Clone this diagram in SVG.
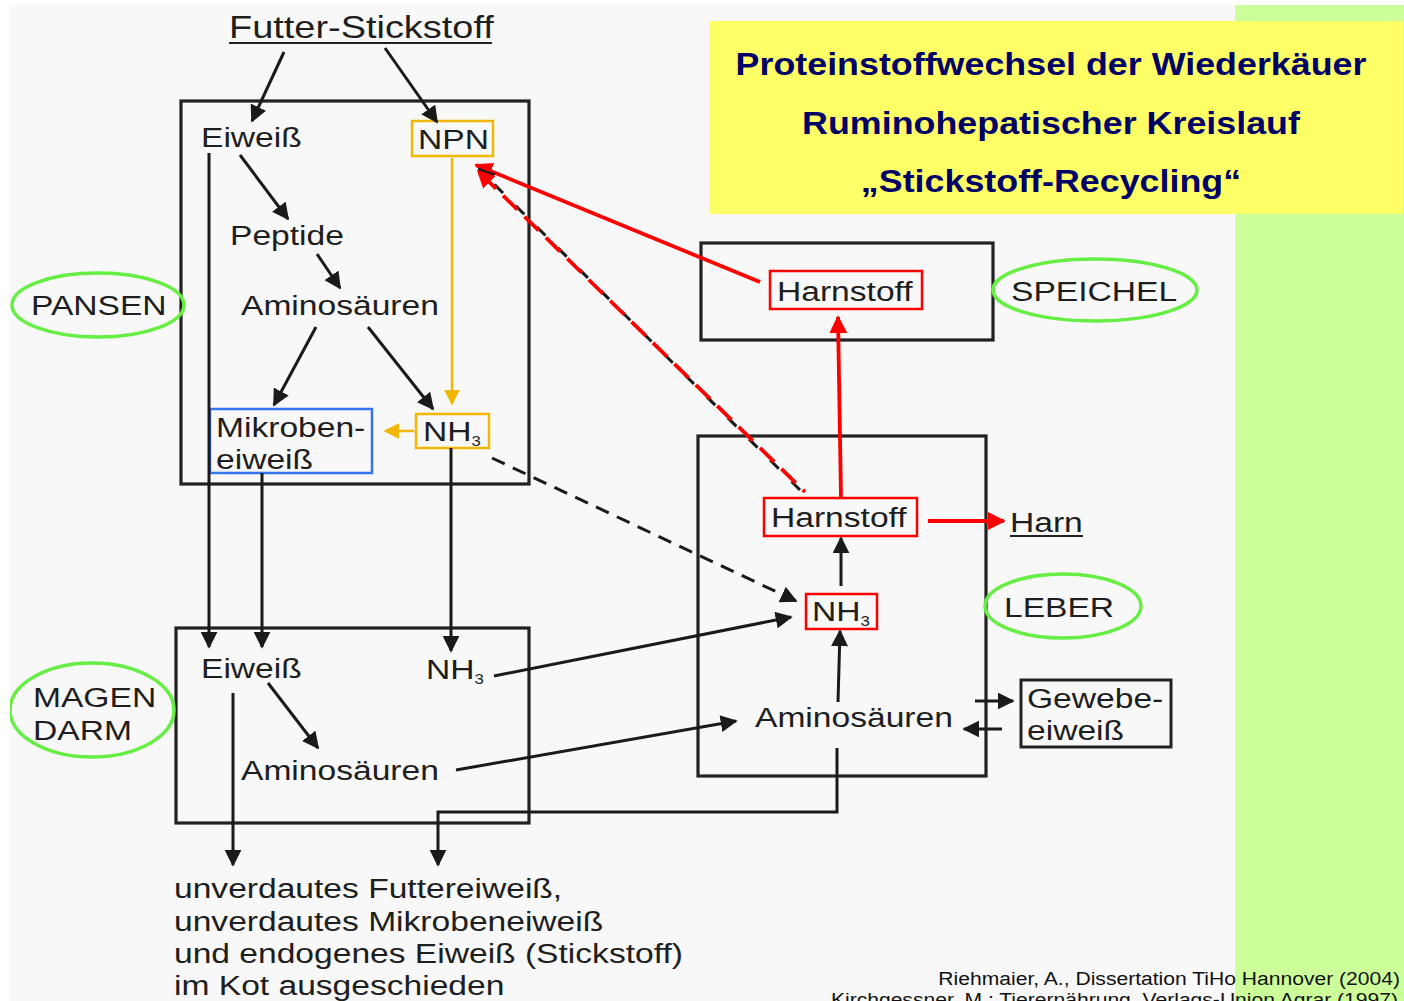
<svg xmlns="http://www.w3.org/2000/svg" width="1404" height="1001" viewBox="0 0 1404 1001">
<style>
.t{font-family:"Liberation Sans",Arial,sans-serif;font-size:28px;fill:#1e1e1e}
.s{font-size:14px}
.box{fill:none;stroke:#222;stroke-width:3.2}
.ln{fill:none;stroke:#1a1a1a;stroke-width:3}
.rd{fill:none;stroke:#ff0000;stroke-width:3.8}
.or{fill:none;stroke:#f2b705;stroke-width:2.5}
.ell{fill:none;stroke:#66ee44;stroke-width:3.5}
.title{font-family:"Liberation Sans",Arial,sans-serif;font-size:32px;font-weight:bold;fill:#000066;text-anchor:middle}
.cite{font-family:"Liberation Sans",Arial,sans-serif;font-size:19px;fill:#111;text-anchor:end}
</style>
<defs>
<marker id="ab" viewBox="0 0 10 10" refX="9" refY="5" markerWidth="17" markerHeight="17" markerUnits="userSpaceOnUse" orient="auto"><path d="M0,0 L10,5 L0,10 z" fill="#1a1a1a"/></marker>
<marker id="ar" viewBox="0 0 10 10" refX="9" refY="5" markerWidth="18" markerHeight="18" markerUnits="userSpaceOnUse" orient="auto"><path d="M0,0 L10,5 L0,10 z" fill="#ff0000"/></marker>
<marker id="ao" viewBox="0 0 10 10" refX="9" refY="5" markerWidth="16" markerHeight="16" markerUnits="userSpaceOnUse" orient="auto"><path d="M0,0 L10,5 L0,10 z" fill="#f2b705"/></marker>
<clipPath id="clip"><rect x="10" y="5" width="1394" height="996"/></clipPath>
</defs>
<rect x="0" y="0" width="1404" height="1001" fill="#ffffff"/>
<rect x="10" y="5" width="1394" height="996" fill="#f8f8f8"/>
<rect x="1235" y="5" width="169" height="996" fill="#ccff99"/>

<g id="title">
<rect x="709" y="21" width="694" height="193" fill="#ffff66"/>
<text class="title" transform="translate(1051,75) scale(1.12,1)">Proteinstoffwechsel der Wiederkäuer</text>
<text class="title" transform="translate(1051,134) scale(1.12,1)">Ruminohepatischer Kreislauf</text>
<text class="title" transform="translate(1051,192) scale(1.12,1)">„Stickstoff-Recycling“</text>
</g>

<g id="futter">
<text class="t" style="font-size:32px" transform="translate(229,38) scale(1.185,1)">Futter-Stickstoff</text>
<line x1="229" y1="43" x2="492" y2="43" stroke="#222" stroke-width="2"/>
</g>

<g id="pansen-box"><rect class="box" x="181" y="101" width="348" height="383"/></g>
<g id="magen-box"><rect class="box" x="176" y="628" width="353" height="195"/></g>
<g id="speichel-box"><rect class="box" x="701" y="243" width="292" height="97"/></g>
<g id="leber-box"><rect class="box" x="698" y="436" width="288" height="340"/></g>

<g id="pansen-label" clip-path="url(#clip)">
<ellipse class="ell" cx="98" cy="305" rx="86" ry="32"/>
<text class="t" transform="translate(31,315) scale(1.2,1)">PANSEN</text>
</g>
<g id="magen-label" clip-path="url(#clip)">
<ellipse class="ell" cx="92" cy="710" rx="82" ry="47"/>
<text class="t" transform="translate(33,707) scale(1.2,1)">MAGEN</text>
<text class="t" transform="translate(33,740) scale(1.2,1)">DARM</text>
</g>
<g id="speichel-label">
<ellipse class="ell" cx="1095" cy="290" rx="102" ry="31"/>
<text class="t" transform="translate(1011,301) scale(1.2,1)">SPEICHEL</text>
</g>
<g id="leber-label">
<ellipse class="ell" cx="1063" cy="606" rx="78" ry="32"/>
<text class="t" transform="translate(1004,617) scale(1.2,1)">LEBER</text>
</g>

<g id="p-eiweiss"><text class="t" transform="translate(201,147) scale(1.2,1)">Eiweiß</text></g>
<g id="p-npn"><rect x="412" y="121" width="81" height="35" fill="none" stroke="#f2b705" stroke-width="2.5"/><text class="t" transform="translate(418,149) scale(1.2,1)">NPN</text></g>
<g id="p-peptide"><text class="t" transform="translate(230,245) scale(1.2,1)">Peptide</text></g>
<g id="p-amino"><text class="t" transform="translate(241,315) scale(1.2,1)">Aminosäuren</text></g>
<g id="p-mikroben"><rect x="210" y="409" width="162" height="64" fill="none" stroke="#3377ee" stroke-width="2.5"/><text class="t" transform="translate(216,437) scale(1.2,1)">Mikroben-</text><text class="t" transform="translate(216,469) scale(1.2,1)">eiweiß</text></g>
<g id="p-nh3"><rect x="416" y="414" width="73" height="34" fill="none" stroke="#f2b705" stroke-width="2.5"/><text class="t" transform="translate(423,441) scale(1.2,1)">NH<tspan class="s" dy="5">3</tspan></text></g>

<g id="m-eiweiss"><text class="t" transform="translate(201,678) scale(1.2,1)">Eiweiß</text></g>
<g id="m-nh3"><text class="t" transform="translate(426,679) scale(1.2,1)">NH<tspan class="s" dy="5">3</tspan></text></g>
<g id="m-amino"><text class="t" transform="translate(241,780) scale(1.2,1)">Aminosäuren</text></g>

<g id="s-harnstoff"><rect x="770" y="271" width="152" height="38" fill="none" stroke="#ff0000" stroke-width="2.5"/><text class="t" transform="translate(777,301) scale(1.2,1)">Harnstoff</text></g>
<g id="l-harnstoff"><rect x="764" y="498" width="153" height="38" fill="none" stroke="#ff0000" stroke-width="2.5"/><text class="t" transform="translate(771,527) scale(1.2,1)">Harnstoff</text></g>
<g id="harn"><text class="t" transform="translate(1010,532) scale(1.2,1)">Harn</text><line x1="1010" y1="536" x2="1083" y2="536" stroke="#222" stroke-width="2"/></g>
<g id="l-nh3"><rect x="806" y="594" width="71" height="35" fill="none" stroke="#ff0000" stroke-width="2.5"/><text class="t" transform="translate(812,621) scale(1.2,1)">NH<tspan class="s" dy="5">3</tspan></text></g>
<g id="l-amino"><text class="t" transform="translate(755,727) scale(1.2,1)">Aminosäuren</text></g>
<g id="gewebe"><rect x="1021" y="680" width="150" height="67" fill="none" stroke="#222" stroke-width="3"/><text class="t" transform="translate(1027,708) scale(1.2,1)">Gewebe-</text><text class="t" transform="translate(1027,740) scale(1.2,1)">eiweiß</text></g>

<g id="kot">
<text class="t" transform="translate(174,898) scale(1.2,1)">unverdautes Futtereiweiß,</text>
<text class="t" transform="translate(174,931) scale(1.2,1)">unverdautes Mikrobeneiweiß</text>
<text class="t" transform="translate(174,963) scale(1.2,1)">und endogenes Eiweiß (Stickstoff)</text>
<text class="t" transform="translate(174,995) scale(1.2,1)">im Kot ausgeschieden</text>
</g>

<g id="connectors">
<line class="ln" x1="284" y1="52" x2="252" y2="121" marker-end="url(#ab)"/>
<line class="ln" x1="385" y1="48" x2="437" y2="122" marker-end="url(#ab)"/>
<line class="ln" x1="240" y1="155" x2="288" y2="219" marker-end="url(#ab)"/>
<line class="ln" x1="317" y1="254" x2="340" y2="288" marker-end="url(#ab)"/>
<line class="ln" x1="316" y1="327" x2="274" y2="405" marker-end="url(#ab)"/>
<line class="ln" x1="368" y1="327" x2="433" y2="409" marker-end="url(#ab)"/>
<line class="or" x1="452" y1="158" x2="452" y2="404" marker-end="url(#ao)"/>
<line class="or" x1="414" y1="431" x2="385" y2="431" marker-end="url(#ao)"/>
<line class="ln" x1="209" y1="153" x2="209" y2="647" marker-end="url(#ab)"/>
<line class="ln" x1="262" y1="473" x2="262" y2="647" marker-end="url(#ab)"/>
<line class="ln" x1="451" y1="448" x2="451" y2="651" marker-end="url(#ab)"/>
<line class="ln" x1="268" y1="683" x2="318" y2="748" marker-end="url(#ab)"/>
<line class="ln" x1="233" y1="693" x2="233" y2="865" marker-end="url(#ab)"/>
<polyline class="ln" points="837,748 837,812 438,812 438,865" marker-end="url(#ab)"/>
<line class="ln" x1="494" y1="676" x2="791" y2="617" marker-end="url(#ab)"/>
<line class="ln" x1="456" y1="770" x2="736" y2="721" marker-end="url(#ab)"/>
<line class="ln" x1="492" y1="458" x2="796" y2="601" stroke-dasharray="14 9" marker-end="url(#ab)"/>
<line class="ln" x1="838" y1="702" x2="840" y2="631" marker-end="url(#ab)"/>
<line class="ln" x1="841" y1="586" x2="841" y2="538" marker-end="url(#ab)"/>
<line class="ln" x1="975" y1="701" x2="1013" y2="701" marker-end="url(#ab)"/>
<line class="ln" x1="1002" y1="729" x2="964" y2="729" marker-end="url(#ab)"/>
<line class="rd" x1="841" y1="498" x2="838" y2="317" marker-end="url(#ar)"/>
<line class="rd" x1="928" y1="521" x2="1004" y2="521" marker-end="url(#ar)"/>
<line class="rd" x1="760" y1="282" x2="476" y2="165" marker-end="url(#ar)"/>
<line class="ln" x1="800" y1="490" x2="479" y2="169" stroke-dasharray="12 18" marker-end="url(#ab)"/>
<line class="rd" x1="805" y1="492" x2="478" y2="171" stroke-dasharray="20 10" stroke-dashoffset="17" marker-end="url(#ar)"/>
</g>

<g id="citation">
<text class="cite" transform="translate(1400,985) scale(1.11,1)">Riehmaier, A., Dissertation TiHo Hannover (2004)</text>
<text class="cite" transform="translate(1398,1006) scale(1.11,1)">Kirchgessner, M.: Tierernährung, Verlags-Union Agrar (1997)</text>
</g>
</svg>
